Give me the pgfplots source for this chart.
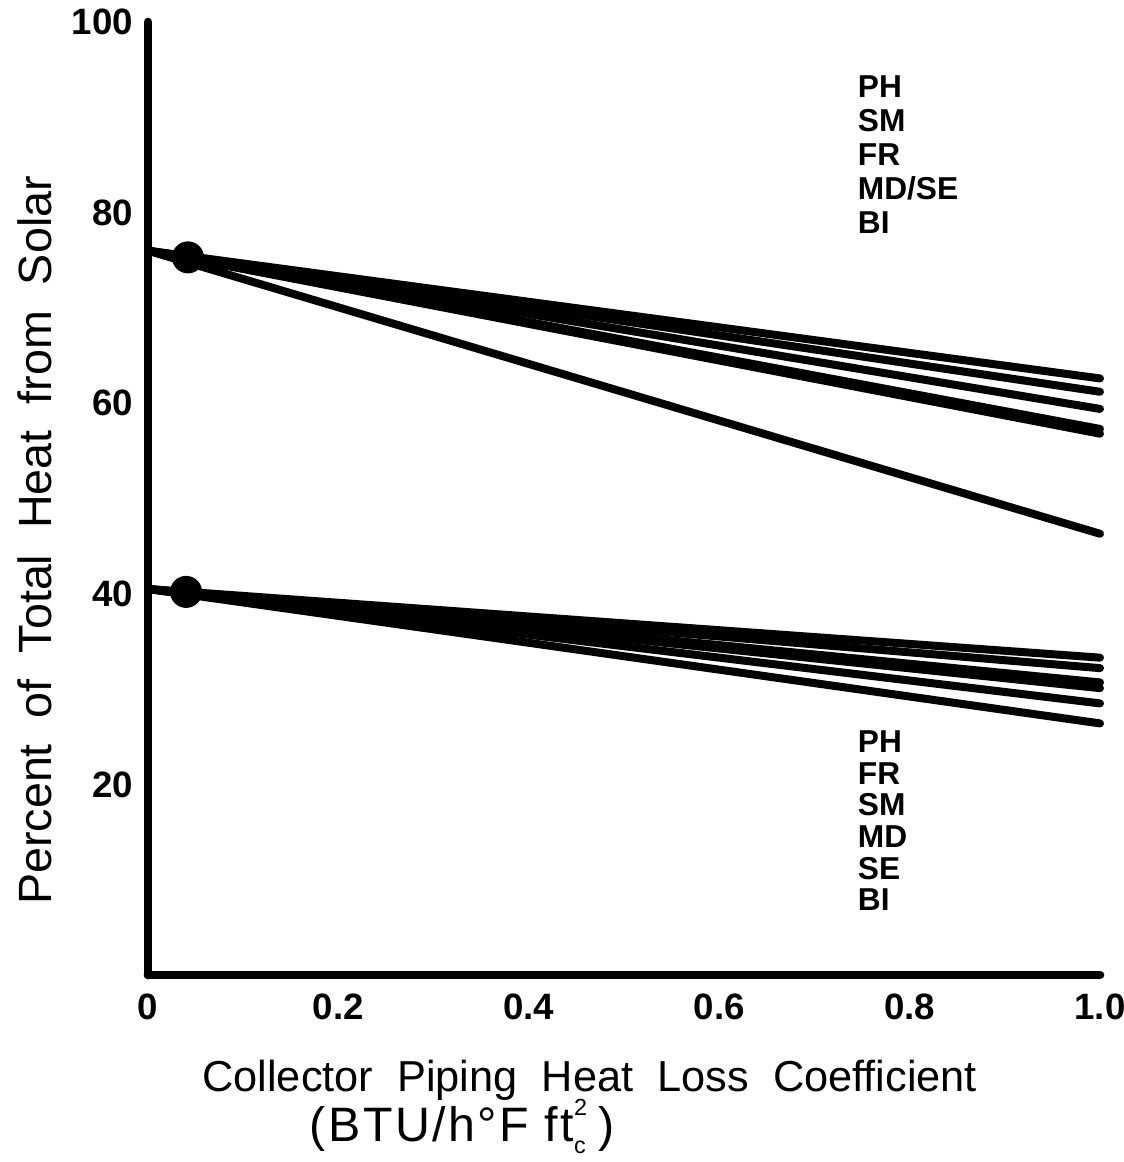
\documentclass[border=0pt]{standalone}
\usepackage{fontspec}
\setmainfont{Liberation Sans}
\usepackage{pgfplots}
\pgfplotsset{compat=1.18}
\begin{document}
\begin{tikzpicture}
\begin{axis}[name=ax, scale only axis, width=285.6pt, height=285.9pt,
  xmin=0, xmax=1, ymin=0, ymax=100,
  axis x line=bottom, axis y line=left,
  axis line style={-, line width=2.6pt, line cap=round},
  xtick={0,0.2,0.4,0.6,0.8,1}, xticklabels={0,0.2,0.4,0.6,0.8,1.0},
  ytick={20,40,60,80,100}, yticklabels={20,40,60,80,100},
  major tick length=0pt,
  tick label style={font=\bfseries\fontsize{11}{11}\selectfont},
  xticklabel style={yshift=-2pt},
  yticklabel style={xshift=-1pt},
  clip=false,
  ln/.style={black, line width=2.4pt, line cap=round, mark=none},
]
% upper group
\addplot[ln] coordinates {(0,76) (1,62.6)};
\addplot[ln] coordinates {(0,76) (1,61.2)};
\addplot[ln] coordinates {(0,76) (1,59.4)};
\addplot[ln] coordinates {(0,76) (1,57.3)};
\addplot[ln] coordinates {(0,76) (1,56.8)};
\addplot[ln] coordinates {(0,76) (1,46.3)};
% lower group
\addplot[ln] coordinates {(0,40.5) (1,33.3)};
\addplot[ln] coordinates {(0,40.5) (1,32.2)};
\addplot[ln] coordinates {(0,40.5) (1,30.7)};
\addplot[ln] coordinates {(0,40.5) (1,30.1)};
\addplot[ln] coordinates {(0,40.5) (1,28.5)};
\addplot[ln] coordinates {(0,40.5) (1,26.4)};
% markers
\addplot[black, only marks, mark=*, mark size=4.6pt] coordinates {(0.042,75.3) (0.040,40.2)};
% labels
\node[anchor=north west, align=left, inner sep=0pt, font=\bfseries\fontsize{9.5}{10.2}\selectfont]
  at (axis cs:0.745,94.4) {PH\\SM\\FR\\MD/SE\\BI};
\node[anchor=north west, align=left, inner sep=0pt, font=\bfseries\fontsize{9.5}{9.5}\selectfont]
  at (axis cs:0.745,25.7) {PH\\FR\\SM\\MD\\SE\\BI};
\node[anchor=base, yshift=-35pt, font=\fontsize{13}{13}\selectfont] at (rel axis cs:0.464,0)
  {Collector\ \ Piping\ \ Heat\ \ Loss\ \ Coefficient};
\node[anchor=base, yshift=-50pt, font=\fontsize{14.5}{14.5}\selectfont\addfontfeature{LetterSpace=5}] at (rel axis cs:0.33,0)
  {(BTU/h°F\,\,ft\makebox[0.5em][l]{\rlap{\raisebox{0.55em}{\fontsize{7}{7}\selectfont 2}}\raisebox{-0.25em}{\fontsize{7}{7}\selectfont c}})};
\node[rotate=90, anchor=center, font=\fontsize{14}{14}\selectfont] at ([xshift=-34pt]rel axis cs:0,0.456)
  {Percent\ \ of\ \ Total\ \ Heat\ \ from\ \ Solar};
\end{axis}
\pgfresetboundingbox
\path ([shift={(-44.4pt,-56.1pt)}]ax.south west) rectangle ([shift={(7.2pt,6.6pt)}]ax.north east);
\end{tikzpicture}
\end{document}
